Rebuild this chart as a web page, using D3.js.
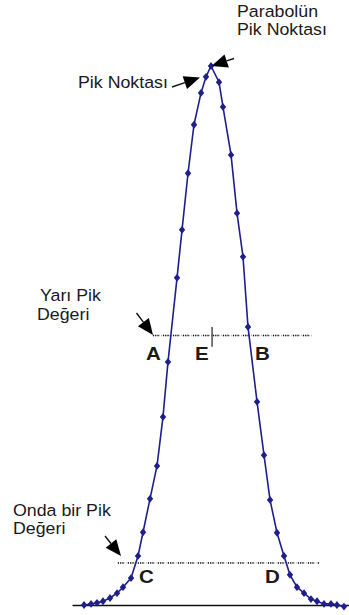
<!DOCTYPE html>
<html>
<head>
<meta charset="utf-8">
<script src="https://cdn.jsdelivr.net/npm/d3@7"></script>
<style>
  html, body { margin: 0; padding: 0; background: #fff; }
  svg { display: block; }
  text { font-family: "Liberation Sans", Arial, sans-serif; fill: #1a1a1a; }
</style>
</head>
<body>
<svg id="chart" width="349" height="615"></svg>
<script>
// Sampled peak (time, relative signal %)
const times = [0, 1.08, 2.0, 2.92, 4.0, 5.08, 6.0, 7.23, 8.31, 9.08, 10.15, 11.23, 12.15, 12.92,
  14.31, 15.08, 16.0, 16.92, 18.0, 18.77, 19.54,
  20.77, 21.38, 22.62, 23.54, 24.46, 25.23, 26.62, 27.69, 28.62, 29.69, 30.77, 31.69,
  32.77, 33.85, 34.92, 35.85, 36.92, 38.0, 38.92, 40.0];
const signal = [0, 0.2, 0.4, 0.7, 1.3, 2.2, 3.3, 5.0, 9.1, 13.5, 19.7, 25.8, 34.9, 45.1,
  60.7, 69.6, 80.1, 89.1, 95.0, 98.0, 100,
  97.0, 92.4, 83.5, 72.7, 64.6, 51.6, 37.7, 27.8, 19.5, 13.4, 9.1, 5.6,
  3.3, 2.2, 1.1, 0.7, 0.2, 0.2, 0, -0.3];

// Reference levels: half height and tenth height, with their drawn extents
const levelNames = ["half", "tenth"];
const levelValues = [50, 7.8];
const levelStart = [10.6, 5.2];
const levelEnd = [35.1, 36.3];

const peakTime = 19.7;
const peakTickSpan = [51.6, 47.9];

// Point letters: [label, time, level]
const pointLabels = ["A", "E", "B", "C", "D"];
const pointTimes = [9.53, 17.07, 26.3, 8.46, 27.84];
const pointLevels = [45.45, 45.45, 45.45, 4.08, 4.08];

const xDomain = [-1.85, 40.77];
const yDomain = [0, 100];

const svg = d3.select("#chart");
const x = d3.scaleLinear().domain(xDomain).range([72, 349]);
const y = d3.scaleLinear().domain(yDomain).range([605, 66]);

const lineColor = "#1f1f8c";
const STRETCH = 1.14;

// baseline (time axis without ticks)
svg.append("g")
  .attr("transform", `translate(0,${y(0)})`)
  .call(d3.axisBottom(x).tickValues([]).tickSizeOuter(0))
  .call(g => g.select(".domain").attr("stroke", "#111").attr("stroke-width", 1.6));

// dotted level lines
levelNames.forEach((n, i) => {
  const yy = y(levelValues[i]);
  svg.append("line")
    .attr("x1", x(levelStart[i])).attr("x2", x(levelEnd[i]))
    .attr("y1", yy).attr("y2", yy)
    .attr("stroke", "#b8b8b8").attr("stroke-width", 1.3)
    .attr("stroke-dasharray", "1,1");
  svg.append("line")
    .attr("x1", x(levelStart[i])).attr("x2", x(levelEnd[i]))
    .attr("y1", yy).attr("y2", yy)
    .attr("stroke", "#111").attr("stroke-width", 1.6)
    .attr("stroke-dasharray", "1.2,1.1,1.2,1.1,1.2,4.2");
});

// peak position tick (E)
svg.append("line")
  .attr("x1", x(peakTime)).attr("x2", x(peakTime))
  .attr("y1", y(peakTickSpan[0])).attr("y2", y(peakTickSpan[1]))
  .attr("stroke", "#333").attr("stroke-width", 1.3);

// curve
const data = times.map((t, i) => ({ t, v: signal[i] }));
svg.append("path")
  .datum(data)
  .attr("fill", "none")
  .attr("stroke", lineColor)
  .attr("stroke-width", 1.6)
  .attr("d", d3.line().x(d => x(d.t)).y(d => y(d.v)));

// diamond markers
const diamond = {
  draw(ctx, size) {
    const w = 3.2, h = 3.9;
    ctx.moveTo(0, -h); ctx.lineTo(w, 0); ctx.lineTo(0, h); ctx.lineTo(-w, 0); ctx.closePath();
  }
};
svg.append("g").selectAll("path")
  .data(data)
  .join("path")
  .attr("transform", d => `translate(${x(d.t)},${y(d.v)})`)
  .attr("d", d3.symbol(diamond))
  .attr("fill", lineColor);

// text helper, slightly widened glyphs
function label(txt, px, py, size, weight) {
  svg.append("text")
    .attr("transform", `translate(${px},${py}) scale(${STRETCH},1)`)
    .attr("font-size", size)
    .attr("font-weight", weight || "normal")
    .text(txt);
}

label("Parabolün", 237, 17, 15.6);
label("Pik Noktası", 237, 35, 15.6);
label("Pik Noktası", 78, 88, 15.6);
label("Yarı Pik", 40, 301, 15.6);
label("Değeri", 37, 320, 15.6);
label("Onda bir Pik", 13, 516, 15.6);
label("Değeri", 13, 534, 15.6);

pointLabels.forEach((l, i) => {
  label(l, x(pointTimes[i]), y(pointLevels[i]), 18, "bold");
});

// arrows: tail -> tip
const arrows = [
  [[172, 87], [200, 77.5]],
  [[234, 58.5], [211.5, 66]],
  [[136.5, 313], [153, 335]],
  [[105, 536], [121, 556]]
];
arrows.forEach(([a, b]) => {
  const dx = b[0] - a[0], dy = b[1] - a[1];
  const len = Math.hypot(dx, dy);
  const ux = dx / len, uy = dy / len;
  const hl = 16, hw = 6.8;
  const bx = b[0] - ux * hl, by = b[1] - uy * hl;
  svg.append("line")
    .attr("x1", a[0]).attr("y1", a[1]).attr("x2", bx).attr("y2", by)
    .attr("stroke", "#111").attr("stroke-width", 1.4);
  svg.append("path")
    .attr("d", `M${b[0]},${b[1]}L${bx - uy * hw},${by + ux * hw}L${bx + uy * hw},${by - ux * hw}Z`)
    .attr("fill", "#000");
});
</script>
</body>
</html>
